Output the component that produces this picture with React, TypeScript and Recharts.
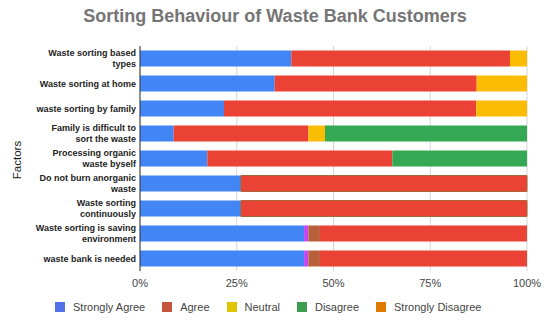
import { BarChart, Bar, XAxis, YAxis, CartesianGrid, Cell } from 'recharts';

// factor labels, already wrapped the way the reference shows them
const factors: string[][] = [
  ['Waste sorting based', 'types'],
  ['Waste sorting at home'],
  ['waste sorting by family'],
  ['Family is difficult to', 'sort the waste'],
  ['Processing organic', 'waste byself'],
  ['Do not burn anorganic', 'waste'],
  ['Waste sorting', 'continuously'],
  ['Waste sorting is saving', 'environment'],
  ['waste bank is needed'],
];

// shares in percent
const stronglyAgree = [39.1, 34.8, 21.7, 8.7, 17.4, 26.1, 26.1, 42.4, 42.4];
const extraPink = [0, 0, 0, 0, 0, 0, 0, 1.1, 1.1];
const extraBrown = [0, 0, 0, 0, 0, 0, 0, 3.0, 3.0];
const agree = [56.5, 52.2, 65.2, 34.8, 47.8, 73.9, 73.9, 53.5, 53.5];
const neutral = [4.4, 13.0, 13.1, 4.3, 0, 0, 0, 0, 0];
const disagree = [0, 0, 0, 52.2, 34.8, 0, 0, 0, 0];

const xTicks = [0, 25, 50, 75, 100];

const legendItems = [
  { label: 'Strongly Agree', color: '#5272ea' },
  { label: 'Agree', color: '#c4553b' },
  { label: 'Neutral', color: '#dfc700' },
  { label: 'Disagree', color: '#3f9d50' },
  { label: 'Strongly Disagree', color: '#de7a02' },
];

const data = factors.map((lines, i) => ({
  name: lines.join(' '),
  lines,
  stronglyAgree: stronglyAgree[i],
  extraPink: extraPink[i],
  extraBrown: extraBrown[i],
  agree: agree[i],
  neutral: neutral[i],
  disagree: disagree[i],
}));

const font = 'Arial, "Liberation Sans", sans-serif';

function FactorTick(props: any) {
  const { x, y, payload } = props;
  const row = data.find((d) => d.name === payload.value);
  const lines = row ? row.lines : [payload.value];
  const lineH = 11.5;
  const startY = y - ((lines.length - 1) * lineH) / 2;
  return (
    <text
      x={x}
      y={startY}
      textAnchor="end"
      dominantBaseline="central"
      fontSize={9}
      fontWeight="bold"
      fill="#222"
      fontFamily={font}
    >
      {lines.map((l, i) => (
        <tspan key={i} x={x} dy={i === 0 ? 0 : lineH}>
          {l}
        </tspan>
      ))}
    </text>
  );
}

export default function App() {
  return (
    <div style={{ position: 'absolute', left: 0, top: 0, width: 550, height: 325, background: '#fff', fontFamily: font }}>
      <div
        style={{
          position: 'absolute',
          top: 6,
          left: 0,
          width: 550,
          textAlign: 'center',
          fontSize: 18,
          fontWeight: 'bold',
          color: '#757575',
        }}
      >
        Sorting Behaviour of Waste Bank Customers
      </div>
      <div
        style={{
          position: 'absolute',
          left: 11,
          top: 160,
          transform: 'translate(-50%, -50%) rotate(-90deg)',
          transformOrigin: 'center',
          fontSize: 11.5,
          color: '#222',
          whiteSpace: 'nowrap',
          marginLeft: 6,
        }}
      >
        Factors
      </div>
      <BarChart
        width={550}
        height={325}
        data={data}
        layout="vertical"
        margin={{ top: 46, right: 23, bottom: 24, left: 0 }}
        barCategoryGap="18%"
      >
        <CartesianGrid horizontal={false} stroke="#d6d6d6" />
        <XAxis
          type="number"
          domain={[0, 100]}
          ticks={xTicks}
          tickFormatter={(v) => `${v}%`}
          axisLine={false}
          tickLine={false}
          height={30}
          tick={{ fontSize: 11, fill: '#444', fontFamily: font }}
        />
        <YAxis
          type="category"
          dataKey="name"
          width={140}
          tickLine={false}
          tickSize={0}
          tickMargin={4}
          axisLine={{ stroke: '#333' }}
          tick={<FactorTick />}
          interval={0}
        />
        <Bar dataKey="stronglyAgree" stackId="a" fill="#4285f4" isAnimationActive={false} />
        <Bar dataKey="extraPink" stackId="a" fill="#c646f0" isAnimationActive={false} />
        <Bar dataKey="extraBrown" stackId="a" fill="#b8603c" isAnimationActive={false} />
        <Bar dataKey="agree" stackId="a" fill="#ea4335" isAnimationActive={false}>
          {data.map((d, i) => (
            <Cell
              key={i}
              fill="#ea4335"
              stroke={i === 5 || i === 6 ? '#a8663a' : 'none'}
              strokeWidth={1}
            />
          ))}
        </Bar>
        <Bar dataKey="neutral" stackId="a" fill="#fbbc04" isAnimationActive={false} />
        <Bar dataKey="disagree" stackId="a" fill="#34a853" isAnimationActive={false} />
      </BarChart>
      <div
        style={{
          position: 'absolute',
          top: 301,
          left: 55,
          display: 'flex',
          alignItems: 'center',
          fontSize: 11,
          color: '#444',
        }}
      >
        {legendItems.map((it, i) => (
          <div key={i} style={{ display: 'flex', alignItems: 'center', marginRight: 17 }}>
            <div style={{ width: 10, height: 10, background: it.color, marginRight: 8 }} />
            <span>{it.label}</span>
          </div>
        ))}
      </div>
    </div>
  );
}
